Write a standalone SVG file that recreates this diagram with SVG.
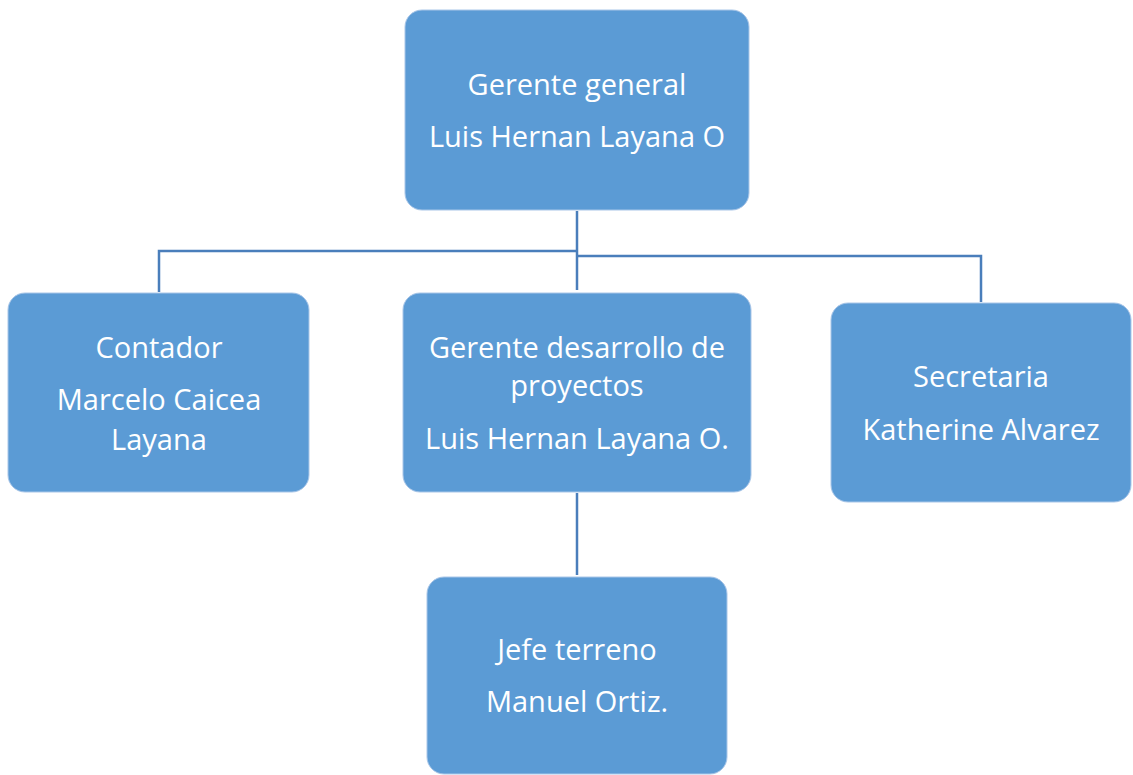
<svg xmlns="http://www.w3.org/2000/svg" width="1133" height="775" viewBox="0 0 1133 775">
<style>
.box{fill:#5B9BD5;stroke:#A9C6E8;stroke-width:1}
.lbl{font-family:"Open Sans","Noto Sans",sans-serif;font-size:29px;fill:#FFFFFF;text-anchor:middle}
.conn{fill:none;stroke:#4A7EBB;stroke-width:2.5}
</style>
<rect width="1133" height="775" fill="#FFFFFF"/>
<g id="connectors">
<path class="conn" d="M577,211 V290"/>
<path class="conn" d="M577,251 H159 V292"/>
<path class="conn" d="M577,256 H981 V302"/>
<path class="conn" d="M577,493 V575"/>
</g>
<g id="gerente-general">
<rect class="box" x="405" y="10" width="344" height="200" rx="17"/>
<text class="lbl" x="577" y="95">Gerente general</text>
<text class="lbl" x="577" y="147">Luis Hernan Layana O</text>
</g>
<g id="contador">
<rect class="box" x="8" y="293" width="301" height="199" rx="17"/>
<text class="lbl" x="159" y="358">Contador</text>
<text class="lbl" x="159" y="410">Marcelo Caicea</text>
<text class="lbl" x="159" y="450">Layana</text>
</g>
<g id="gerente-desarrollo">
<rect class="box" x="403" y="293" width="348" height="199" rx="17"/>
<text class="lbl" x="577" y="358">Gerente desarrollo de</text>
<text class="lbl" x="577" y="396">proyectos</text>
<text class="lbl" x="577" y="449">Luis Hernan Layana O.</text>
</g>
<g id="secretaria">
<rect class="box" x="831" y="303" width="300" height="199" rx="17"/>
<text class="lbl" x="981" y="387">Secretaria</text>
<text class="lbl" x="981" y="440">Katherine Alvarez</text>
</g>
<g id="jefe-terreno">
<rect class="box" x="427" y="577" width="300" height="197" rx="17"/>
<text class="lbl" x="577" y="660">Jefe terreno</text>
<text class="lbl" x="577" y="712">Manuel Ortiz.</text>
</g>
</svg>
